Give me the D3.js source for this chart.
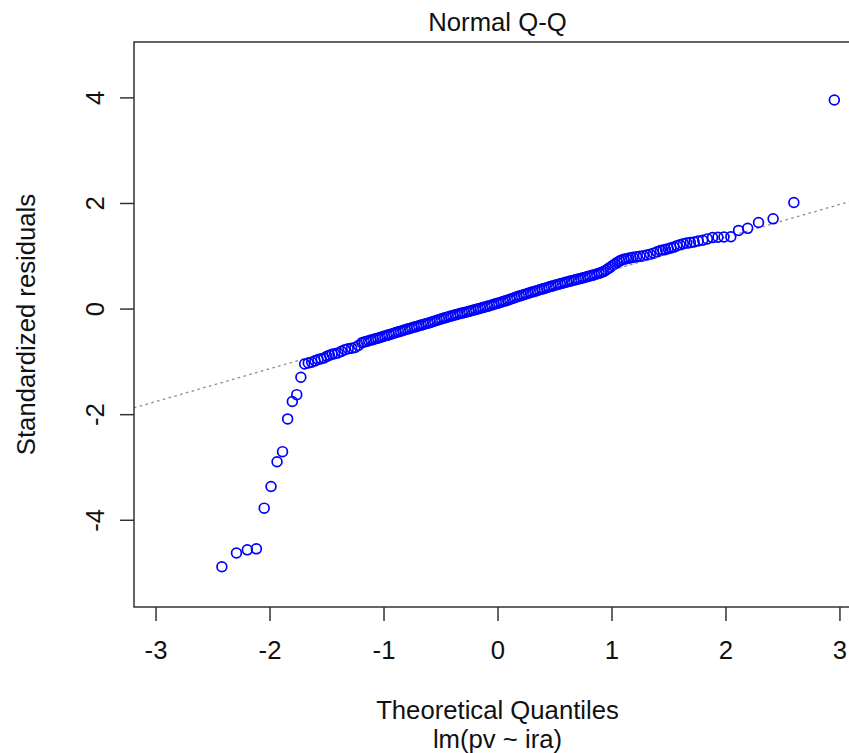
<!DOCTYPE html>
<html>
<head>
<meta charset="utf-8">
<script src="https://cdn.jsdelivr.net/npm/d3@7/dist/d3.min.js"></script>
<style>
  html, body { margin: 0; padding: 0; background: #ffffff; }
  svg { display: block; }
  text { font-family: "Liberation Sans", Arial, sans-serif; fill: #111; }
</style>
</head>
<body>
<svg id="chart" width="849" height="753"></svg>
<script>
// ---------- data ----------
const chartTitle = "Normal Q-Q";
const xLabel = "Theoretical Quantiles";
const subLabel = "lm(pv ~ ira)";
const yLabel = "Standardized residuals";

const xTicks = [-3, -2, -1, 0, 1, 2, 3];
const yTicks = [-4, -2, 0, 2, 4];
const xDomain = [-3.189, 3.189];
const yDomain = [-5.652, 5.049];

// reference line (qqline)
const qqIntercept = 0.104;
const qqSlope = 0.6224;

const theoreticalQuantiles = [
  -2.418, -2.29, -2.195, -2.115, -2.047, -1.987, -1.934, -1.886, -1.841, -1.800,
  -1.761, -1.725, -1.692, -1.660, -1.630, -1.601, -1.574, -1.547, -1.522, -1.497,
  -1.474, -1.451, -1.429,
  -1.40, -1.37, -1.34, -1.31, -1.28, -1.25, -1.22,
  -1.19, -1.17, -1.15, -1.13, -1.11, -1.09, -1.07, -1.05, -1.03, -1.01,
  -0.99, -0.97, -0.95, -0.93, -0.91, -0.89, -0.87, -0.85, -0.83, -0.81,
  -0.79, -0.77, -0.75, -0.73, -0.71, -0.69, -0.67, -0.65, -0.63, -0.61,
  -0.59, -0.57, -0.55, -0.53, -0.51, -0.49, -0.47, -0.45, -0.43, -0.41,
  -0.39, -0.37, -0.35, -0.33, -0.31, -0.29, -0.27, -0.25, -0.23, -0.21,
  -0.19, -0.17, -0.15, -0.13, -0.11, -0.09, -0.07, -0.05, -0.03, -0.01,
  0.01, 0.03, 0.05, 0.07, 0.09, 0.11, 0.13, 0.15, 0.17, 0.19,
  0.21, 0.23, 0.25, 0.27, 0.29, 0.31, 0.33, 0.35, 0.37, 0.39,
  0.41, 0.43, 0.45, 0.47, 0.49, 0.51, 0.53, 0.55, 0.57, 0.59,
  0.61, 0.63, 0.65, 0.67, 0.69, 0.71, 0.73, 0.75, 0.77, 0.79,
  0.81, 0.83, 0.85, 0.87, 0.89, 0.91, 0.93, 0.95, 0.97, 0.99,
  1.01, 1.03, 1.05, 1.07, 1.09, 1.11, 1.13, 1.15, 1.17, 1.19,
  1.22, 1.25, 1.28, 1.31, 1.34, 1.37, 1.40,
  1.429, 1.451, 1.474, 1.497, 1.522, 1.547, 1.574, 1.601, 1.630, 1.660,
  1.692, 1.725, 1.761, 1.800, 1.841, 1.886, 1.934, 1.987, 2.047, 2.115,
  2.195, 2.29, 2.418, 2.60, 2.955
];

const standardizedResiduals = [
  -4.89, -4.63, -4.57, -4.55, -3.78, -3.37, -2.90, -2.71, -2.09, -1.76,
  -1.63, -1.30, -1.05, -1.03, -1.015, -0.99, -0.965, -0.95, -0.935, -0.905,
  -0.885, -0.865, -0.855,
  -0.84, -0.81, -0.78, -0.76, -0.75, -0.735, -0.70,
  -0.647, -0.634, -0.622, -0.609, -0.597, -0.584, -0.572, -0.56, -0.547, -0.533,
  -0.52, -0.507, -0.494, -0.48, -0.467, -0.453, -0.44, -0.427, -0.414, -0.40,
  -0.388, -0.375, -0.363, -0.35, -0.338, -0.325, -0.313, -0.30, -0.288, -0.276,
  -0.262, -0.248, -0.234, -0.22, -0.206, -0.193, -0.18, -0.167, -0.155, -0.142,
  -0.13, -0.118, -0.106, -0.095, -0.085, -0.074, -0.063, -0.052, -0.04, -0.028,
  -0.016, -0.005, 0.007, 0.019, 0.031, 0.043, 0.055, 0.068, 0.081, 0.094,
  0.107, 0.12, 0.133, 0.147, 0.161, 0.176, 0.192, 0.207, 0.222, 0.236,
  0.25, 0.264, 0.278, 0.291, 0.304, 0.317, 0.33, 0.343, 0.356, 0.369,
  0.382, 0.395, 0.408, 0.421, 0.434, 0.446, 0.458, 0.47, 0.482, 0.494,
  0.505, 0.516, 0.527, 0.538, 0.549, 0.56, 0.571, 0.582, 0.594, 0.606,
  0.618, 0.63, 0.642, 0.655, 0.668, 0.684, 0.70, 0.725, 0.755, 0.785,
  0.815, 0.845, 0.875, 0.90, 0.92, 0.935, 0.945, 0.955, 0.962, 0.97,
  0.98, 0.99, 1.00, 1.015, 1.03, 1.05, 1.075,
  1.10, 1.11, 1.12, 1.135, 1.15, 1.165, 1.19, 1.21, 1.23, 1.24,
  1.25, 1.26, 1.28, 1.295, 1.32, 1.345, 1.35, 1.355, 1.36, 1.48,
  1.52, 1.63, 1.70, 2.01, 3.95
];

// ---------- layout ----------
const W = 849, H = 753;
const plot = { left: 134, right: 861, top: 42, bottom: 607 };
const fontSize = 25.7;

const svg = d3.select("#chart");
svg.append("rect").attr("width", W).attr("height", H).attr("fill", "#fff");

const x = d3.scaleLinear().domain(xDomain).range([plot.left, plot.right]);
const y = d3.scaleLinear().domain(yDomain).range([plot.bottom, plot.top]);

// clip for plot area
svg.append("defs").append("clipPath").attr("id", "clip")
  .append("rect")
  .attr("x", plot.left).attr("y", plot.top)
  .attr("width", plot.right - plot.left).attr("height", plot.bottom - plot.top);

const gPlot = svg.append("g").attr("clip-path", "url(#clip)");

// qq reference line
gPlot.append("line")
  .attr("x1", x(xDomain[0])).attr("y1", y(qqIntercept + qqSlope * xDomain[0]))
  .attr("x2", x(xDomain[1])).attr("y2", y(qqIntercept + qqSlope * xDomain[1]))
  .attr("stroke", "#8a8a8a").attr("stroke-width", 1.3)
  .attr("stroke-dasharray", "2.5,3.5");

// points
const pts = theoreticalQuantiles.map((q, i) => ({ q, r: standardizedResiduals[i] }));
gPlot.selectAll("circle.pt").data(pts).enter().append("circle")
  .attr("class", "pt")
  .attr("cx", d => x(d.q)).attr("cy", d => y(d.r))
  .attr("r", 4.9)
  .attr("fill", "none")
  .attr("stroke", "#0000ff")
  .attr("stroke-width", 1.7);

// redraw the line over the dense band so it shows through, as in the reference
gPlot.append("line")
  .attr("x1", x(-1.2)).attr("y1", y(qqIntercept + qqSlope * -1.2))
  .attr("x2", x(1.45)).attr("y2", y(qqIntercept + qqSlope * 1.45))
  .attr("stroke", "#9a9ab0").attr("stroke-width", 1.1)
  .attr("stroke-dasharray", "2.5,3.5").attr("opacity", 0.6);

// box
svg.append("rect")
  .attr("x", plot.left).attr("y", plot.top)
  .attr("width", plot.right - plot.left).attr("height", plot.bottom - plot.top)
  .attr("fill", "none").attr("stroke", "#333").attr("stroke-width", 1.5);

// x axis
const xAxis = d3.axisBottom(x).tickValues(xTicks).tickSize(14).tickPadding(0)
  .tickFormat(d3.format("d"));
const gx = svg.append("g").attr("transform", `translate(0,${plot.bottom})`).call(xAxis);
gx.select(".domain").remove();
gx.selectAll(".tick line").attr("stroke", "#333").attr("stroke-width", 1.5);
gx.selectAll(".tick text")
  .attr("y", 52).attr("dy", null)
  .style("font-size", fontSize + "px")
  .style("font-family", "'Liberation Sans', Arial, sans-serif")
  .attr("fill", "#111")
  .text(d => d < 0 ? "-" + Math.abs(d) : d);

// y axis
const yAxis = d3.axisLeft(y).tickValues(yTicks).tickSize(14).tickPadding(0)
  .tickFormat(d3.format("d"));
const gy = svg.append("g").attr("transform", `translate(${plot.left},0)`).call(yAxis);
gy.select(".domain").remove();
gy.selectAll(".tick line").attr("stroke", "#333").attr("stroke-width", 1.5);
gy.selectAll(".tick text")
  .attr("x", null).attr("dy", null)
  .attr("text-anchor", "middle")
  .attr("transform", "translate(-30,0) rotate(-90)")
  .style("font-size", fontSize + "px")
  .style("font-family", "'Liberation Sans', Arial, sans-serif")
  .attr("fill", "#111")
  .text(d => d < 0 ? "-" + Math.abs(d) : d);

// titles
svg.append("text")
  .attr("x", (plot.left + plot.right) / 2).attr("y", 31)
  .attr("text-anchor", "middle").style("font-size", fontSize + "px")
  .text(chartTitle);

svg.append("text")
  .attr("x", (plot.left + plot.right) / 2).attr("y", 719)
  .attr("text-anchor", "middle").style("font-size", fontSize + "px")
  .text(xLabel);

svg.append("text")
  .attr("x", (plot.left + plot.right) / 2).attr("y", 748)
  .attr("text-anchor", "middle").style("font-size", fontSize + "px")
  .text(subLabel);

svg.append("text")
  .attr("transform", `translate(35,${(plot.top + plot.bottom) / 2}) rotate(-90)`)
  .attr("text-anchor", "middle").style("font-size", fontSize + "px")
  .text(yLabel);
</script>
</body>
</html>
